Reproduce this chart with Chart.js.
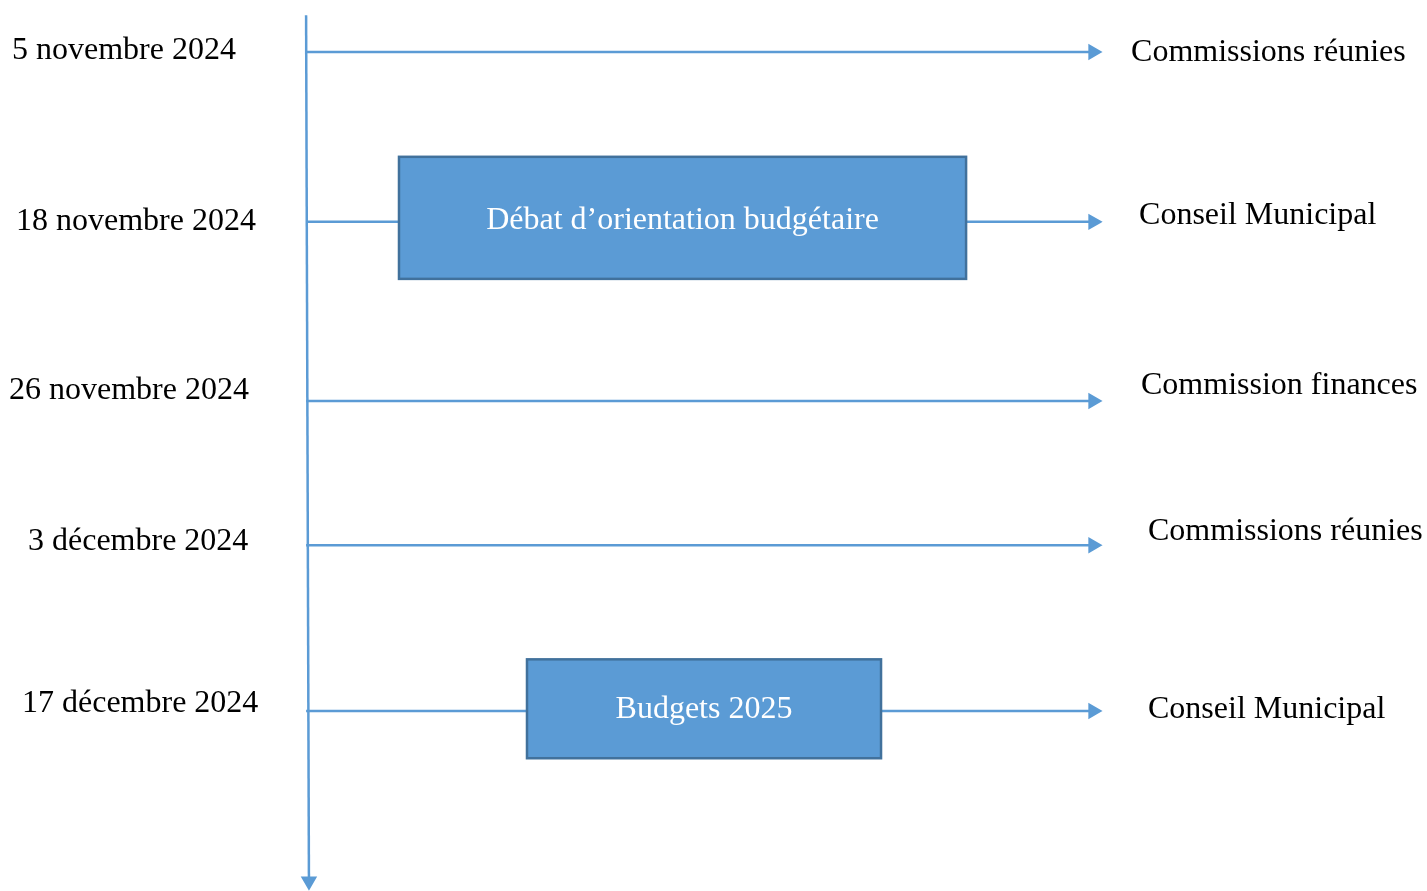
<!DOCTYPE html>
<html>
<head>
<meta charset="utf-8">
<script src="https://cdn.jsdelivr.net/npm/chart.js@4"></script>
<style>
  html, body { margin: 0; padding: 0; background: #fff; }
  #wrap { width: 1427px; height: 891px; }
</style>
</head>
<body>
<div id="wrap"><canvas id="timeline"></canvas></div>
<script>
// data
var dates = ['5 novembre 2024', '18 novembre 2024', '26 novembre 2024', '3 décembre 2024', '17 décembre 2024'];
var events = ['Commissions réunies', 'Conseil Municipal', 'Commission finances', 'Commissions réunies', 'Conseil Municipal'];
var rows = [5.84, 24.9, 45.0, 61.2, 79.8];           // y position of each step (0 top .. 100 bottom)
var boxLabels = ['Débat d\u2019orientation budgétaire', 'Budgets 2025'];
var boxRows = [1, 4];                                 // which step the box sits on
var boxFrom = [27.96, 36.93];
var boxTo = [67.7, 61.74];
var boxTop = [17.6, 74.0];
var boxBottom = [31.3, 85.1];

// layout (x on 0..100 scale)
var axisX = 21.45, arrowEnd = 76.6;
var dateX = [0.84, 1.12, 0.63, 1.96, 1.54];
var dateY = [5.65, 24.85, 43.85, 60.75, 78.95];
var eventX = [79.26, 79.82, 79.96, 80.45, 80.45];
var eventY = [5.9, 24.2, 43.3, 59.7, 79.6];

var blue = '#5B9BD5';
var font = '32px "Liberation Serif", "Times New Roman", serif';

var datasets = [{
    data: [{x: axisX, y: 1.7}, {x: axisX + 0.2, y: 98.9}],
    showLine: true,
    borderColor: blue,
    backgroundColor: blue,
    borderWidth: 2.5,
    pointStyle: 'triangle',
    pointRadius: [0, 7],
    rotation: 180
}];
rows.forEach(function (r) {
    datasets.push({
        data: [{x: axisX, y: r}, {x: arrowEnd, y: r}],
        showLine: true,
        borderColor: blue,
        backgroundColor: blue,
        borderWidth: 2.5,
        pointStyle: 'triangle',
        pointRadius: [0, 7],
        rotation: 90
    });
});

var labelsPlugin = {
    id: 'labels',
    afterDatasetsDraw: function (chart) {
        var c = chart.ctx, xs = chart.scales.x, ys = chart.scales.y;
        c.save();
        // boxes
        boxLabels.forEach(function (t, i) {
            var x1 = xs.getPixelForValue(boxFrom[i]), x2 = xs.getPixelForValue(boxTo[i]);
            var y1 = ys.getPixelForValue(boxTop[i]), y2 = ys.getPixelForValue(boxBottom[i]);
            c.fillStyle = blue;
            c.fillRect(x1, y1, x2 - x1, y2 - y1);
            c.strokeStyle = '#41719C';
            c.lineWidth = 2.5;
            c.strokeRect(x1, y1, x2 - x1, y2 - y1);
            c.fillStyle = '#fff';
            c.font = font;
            c.textAlign = 'center';
            c.textBaseline = 'middle';
            c.fillText(t, (x1 + x2) / 2, ys.getPixelForValue(rows[boxRows[i]]) - 1);
        });
        c.fillStyle = '#000';
        c.font = font;
        c.textAlign = 'left';
        c.textBaseline = 'middle';
        dates.forEach(function (d, i) {
            c.fillText(d, xs.getPixelForValue(dateX[i]), ys.getPixelForValue(dateY[i]));
        });
        events.forEach(function (e, i) {
            c.fillText(e, xs.getPixelForValue(eventX[i]), ys.getPixelForValue(eventY[i]));
        });
        c.restore();
    }
};

new Chart(document.getElementById('timeline'), {
    type: 'scatter',
    data: {datasets: datasets},
    options: {
        responsive: true,
        maintainAspectRatio: false,
        animation: false,
        layout: {padding: 0, autoPadding: false},
        plugins: {legend: {display: false}, tooltip: {enabled: false}},
        scales: {
            x: {type: 'linear', min: 0, max: 100, display: false},
            y: {type: 'linear', min: 0, max: 100, reverse: true, display: false}
        }
    },
    plugins: [labelsPlugin]
});
</script>
</body>
</html>
